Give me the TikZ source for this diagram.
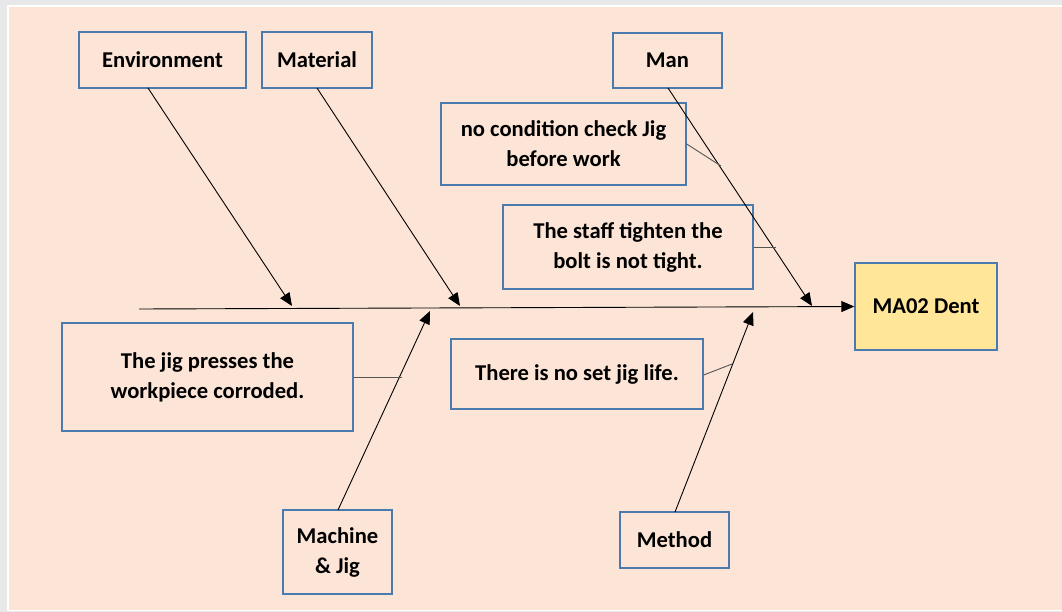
\documentclass[tikz,border=0pt]{standalone}
\usepackage{fontspec}
\setmainfont{Carlito}
\usetikzlibrary{arrows.meta}
\definecolor{bgsalmon}{HTML}{FCE4D6}
\definecolor{framegrey}{HTML}{E8E8E8}
\definecolor{boxblue}{HTML}{4A7AAE}
\definecolor{dentyellow}{HTML}{FFE699}
\definecolor{branchgrey}{HTML}{555555}
\tikzset{
  cbox/.style={draw=boxblue, line width=1.4pt, fill=bgsalmon, align=center, inner sep=2pt,
    font=\bfseries\fontsize{22.6}{30}\selectfont, text=black},
  bone/.style={line width=0.9pt, -{Triangle[length=13pt,width=11pt]}},
  twig/.style={line width=0.9pt, draw=branchgrey},
}
\begin{document}
\begin{tikzpicture}[x=1pt,y=-1pt]
\useasboundingbox (0,0) rectangle (1062,612);
\fill[framegrey] (0,0) rectangle (1062,612);
\fill[white] (7,5) rectangle (1062,611);
\fill[bgsalmon] (9,7) rectangle (1062,610);

% nodes
\node[cbox, minimum width=167pt, minimum height=56pt] (env) at (162.5,60) {Environment};
\node[cbox, minimum width=110pt, minimum height=56pt] (mat) at (317,60) {Material};
\node[cbox, minimum width=109pt, minimum height=55pt] (man) at (667.5,60.5) {Man};
\node[cbox, minimum width=245pt, minimum height=82pt] (nocond) at (563.5,144) {no condition check Jig\\before work};
\node[cbox, minimum width=250pt, minimum height=84pt] (staff) at (628,247) {The staff tighten the\\bolt is not tight.};
\node[cbox, fill=dentyellow, minimum width=142pt, minimum height=87pt] (dent) at (926,306.5) {MA02 Dent};
\node[cbox, minimum width=291pt, minimum height=108pt] (jig) at (207.5,377) {The jig presses the\\workpiece corroded.};
\node[cbox, minimum width=109pt, minimum height=84pt] (mach) at (337.5,552) {Machine\\\& Jig};
\node[cbox, minimum width=252pt, minimum height=70pt] (life) at (577,374) {There is no set jig life.};
\node[cbox, minimum width=109pt, minimum height=56pt] (meth) at (674.5,540) {Method};

% coordinates
\coordinate (spineL) at (139,309);
\coordinate (envS) at (148,88);
\coordinate (matS) at (317,88);
\coordinate (manS) at (668,88);
\coordinate (machS) at (338,510);
\coordinate (methS) at (675,512);
\coordinate (envT) at (292,306);
\coordinate (matT) at (460,306);
\coordinate (manT) at (812,306);
\coordinate (machT) at (430,311);
\coordinate (methT) at (753,312);
\coordinate (t1) at (721,166);
\coordinate (t2) at (776,247);
\coordinate (t3) at (402,377);
\coordinate (t4) at (732,364);

% spine
\draw[bone] (spineL) -- (dent.west);
% bones
\draw[bone] (envS) -- (envT);
\draw[bone] (matS) -- (matT);
\draw[bone] (manS) -- (manT);
\draw[bone] (machS) -- (machT);
\draw[bone] (methS) -- (methT);
% twigs
\draw[twig] (nocond.east) -- (t1);
\draw[twig] (staff.east) -- (t2);
\draw[twig] (jig.east) -- (t3);
\draw[twig] ([yshift=-1pt]life.east) -- (t4);
\end{tikzpicture}
\end{document}
